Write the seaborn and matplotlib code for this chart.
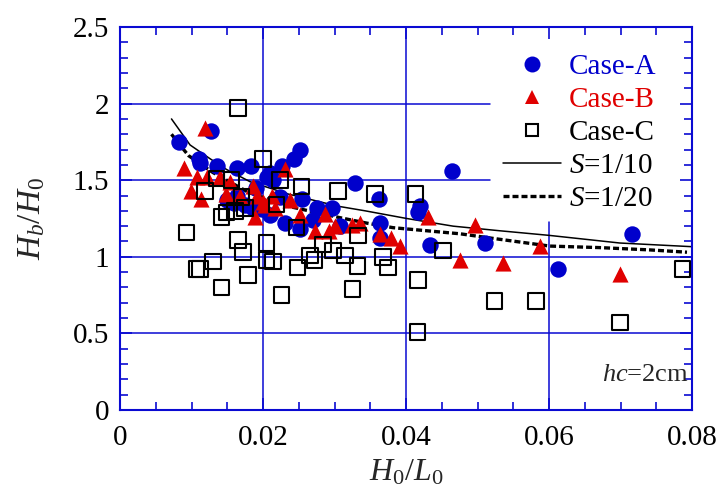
import matplotlib
matplotlib.use("Agg")
import matplotlib.pyplot as plt
from matplotlib.lines import Line2D
from matplotlib.ticker import MultipleLocator
import seaborn as sns

# Case-A (blue circles)
a_x = [0.0082, 0.0127, 0.0110, 0.0112, 0.0135, 0.0163, 0.0183, 0.0205, 0.0149,
       0.0163, 0.0175, 0.0186, 0.0252, 0.0243, 0.0226, 0.0210, 0.0214, 0.0329,
       0.0254, 0.0275, 0.0296, 0.0270, 0.0252, 0.0231, 0.0364, 0.0362, 0.0308,
       0.0210, 0.0198, 0.0364, 0.0419, 0.0417, 0.0434, 0.0464, 0.0511, 0.0613,
       0.0716, 0.0224, 0.0190, 0.0160]
a_y = [1.75, 1.82, 1.64, 1.61, 1.59, 1.58, 1.59, 1.52, 1.37,
       1.40, 1.34, 1.32, 1.70, 1.64, 1.59, 1.55, 1.50, 1.48,
       1.38, 1.32, 1.32, 1.24, 1.18, 1.22, 1.22, 1.38, 1.20,
       1.27, 1.31, 1.12, 1.33, 1.29, 1.08, 1.56, 1.09, 0.92,
       1.15, 1.39, 1.45, 1.35]

# Case-B (red triangles)
b_x = [0.0119, 0.0090, 0.0108, 0.0121, 0.0140, 0.0099, 0.0113, 0.0148, 0.0168,
       0.0186, 0.0191, 0.0189, 0.0203, 0.0154, 0.0231, 0.0212, 0.0238, 0.0252,
       0.0287, 0.0273, 0.0293, 0.0324, 0.0336, 0.0364, 0.0379, 0.0391, 0.0431,
       0.0497, 0.0476, 0.0536, 0.0588, 0.0699, 0.0217, 0.0200, 0.0301]
b_y = [1.84, 1.58, 1.52, 1.52, 1.52, 1.43, 1.38, 1.41, 1.40,
       1.46, 1.40, 1.26, 1.34, 1.49, 1.57, 1.40, 1.37, 1.27,
       1.28, 1.17, 1.17, 1.21, 1.22, 1.15, 1.12, 1.07, 1.26,
       1.21, 0.98, 0.96, 1.07, 0.89, 1.32, 1.36, 1.20]

# Case-C (open squares)
c_x = [0.0165, 0.0093, 0.0107, 0.0112, 0.0130, 0.0142, 0.0165, 0.0172, 0.0179,
       0.0142, 0.0149, 0.0161, 0.0119, 0.0135, 0.0156, 0.0170, 0.0175, 0.0200,
       0.0205, 0.0205, 0.0214, 0.0224, 0.0254, 0.0305, 0.0357, 0.0219, 0.0247,
       0.0248, 0.0226, 0.0266, 0.0272, 0.0284, 0.0298, 0.0315, 0.0332, 0.0325,
       0.0333, 0.0368, 0.0375, 0.0413, 0.0452, 0.0417, 0.0416, 0.0524, 0.0582,
       0.0699, 0.0787]
c_y = [1.97, 1.16, 0.92, 0.92, 0.97, 0.80, 1.11, 1.03, 0.88,
       1.26, 1.29, 1.30, 1.43, 1.51, 1.50, 1.39, 1.32, 1.64,
       1.09, 0.98, 0.97, 1.50, 1.46, 1.43, 1.41, 1.34, 1.19,
       0.93, 0.75, 1.01, 0.98, 1.08, 1.04, 1.01, 0.94, 0.79,
       1.14, 1.00, 0.93, 1.41, 1.04, 0.85, 0.51, 0.71, 0.71,
       0.57, 0.92]

# Slope curves
s10_x = [0.0072, 0.0098, 0.0126, 0.0149, 0.0182, 0.0235, 0.0305, 0.0343,
         0.0401, 0.0466, 0.0531, 0.0600, 0.0699, 0.0800]
s10_y = [1.90, 1.73, 1.64, 1.57, 1.49, 1.41, 1.33, 1.30,
         1.25, 1.20, 1.17, 1.14, 1.09, 1.066]
s20_x = [0.0072, 0.0089, 0.0096, 0.0130, 0.0180, 0.0235, 0.0308, 0.0345,
         0.0382, 0.0429, 0.0476, 0.0522, 0.0601, 0.0671, 0.0741, 0.0793]
s20_y = [1.80, 1.70, 1.66, 1.55, 1.42, 1.33, 1.255, 1.22,
         1.19, 1.17, 1.15, 1.12, 1.07, 1.06, 1.045, 1.03]

BLUE = "#0a0ad2"
MBLUE = "#0000cc"
RED = "#e00000"

sns.set_style("ticks")
plt.rcParams["font.family"] = ["Liberation Serif", "DejaVu Serif"]
plt.rcParams["mathtext.fontset"] = "custom"
plt.rcParams["mathtext.rm"] = "Liberation Serif"
plt.rcParams["mathtext.it"] = "Liberation Serif:italic"

fig = plt.figure(figsize=(7.18, 4.96), dpi=100)
ax = fig.add_axes([120 / 718, 1 - 410 / 496, 572 / 718, 383 / 496])

# grid lines, cut short where the legend block sits
LEG_LEFT = 0.647   # axes fraction
LEG_BOTTOM = 0.491
gkw = dict(color=BLUE, linewidth=1.1, zorder=0.5)
ax.axvline(0.02, **gkw)
ax.axvline(0.04, **gkw)
ax.axvline(0.06, ymax=LEG_BOTTOM, **gkw)
ax.axhline(0.5, **gkw)
ax.axhline(1.0, **gkw)
ax.axhline(1.5, xmax=LEG_LEFT, **gkw)
ax.axhline(2.0, xmax=LEG_LEFT, **gkw)

sns.lineplot(x=s10_x, y=s10_y, ax=ax, estimator=None, sort=False,
             color="black", linewidth=1.1, zorder=2)
sns.lineplot(x=s20_x, y=s20_y, ax=ax, estimator=None, sort=False,
             color="black", linewidth=2.4, zorder=2)
ax.lines[-1].set_dashes((1.8, 0.9))

sns.scatterplot(x=a_x, y=a_y, ax=ax, marker="o", s=140, color=MBLUE,
                linewidth=0, zorder=3)
sns.scatterplot(x=b_x, y=b_y, ax=ax, marker="^", s=135, color=RED,
                linewidth=0, zorder=4)
sns.scatterplot(x=c_x, y=c_y, ax=ax, marker="s", s=125, color="black",
                zorder=5)
coll = ax.collections[-1]
coll.set_facecolor("none")
coll.set_edgecolor("black")
coll.set_linewidth(1.5)

ax.set_xlim(0, 0.08)
ax.set_ylim(0, 2.5)
ax.set_xticks([0, 0.02, 0.04, 0.06, 0.08])
ax.set_xticklabels(["0", "0.02", "0.04", "0.06", "0.08"])
ax.set_yticks([0, 0.5, 1, 1.5, 2, 2.5])
ax.set_yticklabels(["0", "0.5", "1", "1.5", "2", "2.5"])
ax.xaxis.set_minor_locator(MultipleLocator(0.005))
ax.yaxis.set_minor_locator(MultipleLocator(0.1))

for sp in ax.spines.values():
    sp.set_color(BLUE)
    sp.set_linewidth(1.5)
    sp.set_visible(True)
ax.tick_params(which="both", direction="in", top=True, right=True,
               color=BLUE, labelcolor="black", labelsize=21)
ax.tick_params(which="major", length=8.5, width=1.2)
ax.tick_params(axis="x", which="major", pad=11)
ax.tick_params(axis="y", which="major", pad=8)
ax.tick_params(which="minor", length=5.5, width=1.2)

ax.set_xlabel(r"$H_{\mathit{0}}/L_{\mathit{0}}$", fontsize=23, labelpad=5)
ax.set_ylabel(r"$H_b/H_{\mathit{0}}$", fontsize=24, labelpad=18)

ax.text(0.0795, 0.23, "$hc$=2cm", fontsize=19, ha="right", va="center")

handles = [
    Line2D([], [], linestyle="none", marker="o", markersize=11.5,
           markerfacecolor=MBLUE, markeredgewidth=0),
    Line2D([], [], linestyle="none", marker="^", markersize=9.5,
           markerfacecolor=RED, markeredgewidth=0),
    Line2D([], [], linestyle="none", marker="s", markersize=8.5,
           markerfacecolor="none", markeredgecolor="black", markeredgewidth=1.5),
    Line2D([], [], color="black", linewidth=1.1),
    Line2D([], [], color="black", linewidth=2.4, dashes=(1.8, 0.9)),
]
labels = ["Case-A", "Case-B", "Case-C", "$S$=1/10", "$S$=1/20"]
leg = ax.legend(handles, labels, loc="upper left",
                bbox_to_anchor=((503 - 120) / 572, (410 - 54) / 383),
                fontsize=21, frameon=False, borderaxespad=0, borderpad=0,
                handlelength=2.0, handletextpad=0.25, labelspacing=0.22)
for t, c in zip(leg.get_texts(), [MBLUE, RED, "black", "black", "black"]):
    t.set_color(c)

fig.savefig("out.png", dpi=100)
